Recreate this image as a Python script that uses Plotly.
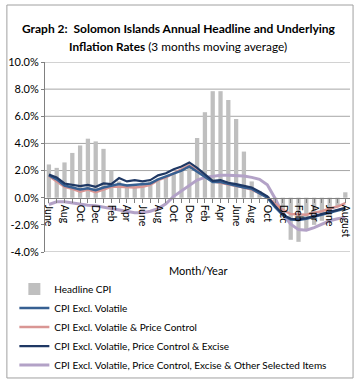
import plotly.graph_objects as go

months = ["June","Jul","Aug","Sep","Oct","Nov","Dec","Jan","Feb","Mar","Apr","May",
          "June","Jul","Aug","Sep","Oct","Nov","Dec","Jan","Feb","Mar","Apr","May",
          "June","Jul","Aug","Sep","Oct","Nov","Dec","Jan","Feb","Mar","Apr","May",
          "June","Jul","August"]

headline = [2.45, 2.2, 2.6, 3.3, 3.85, 4.35, 4.15, 3.6, 2.0, 1.2, 1.0, 1.0, 1.1, 1.2, 1.4, 1.6,
            1.8, 2.0, 2.2, 4.4, 6.3, 7.85, 7.85, 7.2, 5.8, 3.4, 1.2, 0.5, 0.1, -0.4, -1.4, -3.1,
            -3.25, -2.4, -2.0, -1.7, -1.3, -0.6, 0.4]

excl_volatile = [1.65, 1.35, 0.9, 0.75, 0.6, 0.7, 0.55, 0.75, 0.85, 1.0, 0.9, 0.95, 0.95, 1.05,
                 1.35, 1.55, 1.8, 2.0, 2.3, 1.9, 1.5, 1.15, 1.15, 1.0, 0.9, 0.75, 0.65, 0.35,
                 0.0, -0.7, -1.3, -1.6, -1.65, -1.55, -1.4, -1.25, -1.1, -0.95, -0.8]

excl_vol_pc = [1.6, 1.2, 0.8, 0.65, 0.45, 0.6, 0.4, 0.6, 0.8, 0.8, 0.75, 0.75, 0.8, 0.95,
               1.3, 1.5, 1.8, 2.1, 2.4, 2.0, 1.55, 1.2, 1.1, 1.0, 0.85, 0.75, 0.6, 0.35,
               0.05, -0.45, -0.9, -1.2, -1.25, -1.25, -1.1, -1.0, -0.8, -0.65, -0.4]

excl_vol_pc_ex = [1.7, 1.5, 1.05, 0.95, 0.85, 0.95, 0.8, 1.05, 1.0, 1.45, 1.2, 1.3, 1.2, 1.3,
                  1.65, 1.8, 2.1, 2.3, 2.6, 2.2, 1.7, 1.25, 1.3, 1.1, 1.0, 0.85, 0.75, 0.45,
                  0.1, -0.6, -1.25, -1.55, -1.6, -1.5, -1.35, -1.2, -1.05, -0.9, -0.75]

excl_all = [-0.5, -0.3, -0.3, -0.4, -0.5, -0.55, -0.6, -0.7, -0.75, -0.85, -1.0, -1.1, -1.1,
            -1.0, -0.8, -0.45, 0.1, 0.5, 0.9, 1.3, 1.5, 1.6, 1.65, 1.65, 1.65, 1.6, 1.5, 1.35,
            0.95, -0.05, -1.2, -1.95, -2.35, -2.4, -2.2, -1.95, -1.7, -1.55, -1.45]

y_ticks = [-4, -2, 0, 2, 4, 6, 8, 10]
grid_vals = [2, 4, 6, 8, 10]

x = list(range(len(months)))
FONT = "Lato, Liberation Sans, sans-serif"

fig = go.Figure()
fig.add_trace(go.Bar(x=x, y=headline, name="Headline CPI", marker_color="#BFBFBF",
                     marker_line_width=0, width=0.55))
fig.add_trace(go.Scatter(x=x, y=excl_all, mode="lines",
                         name="CPI Excl. Volatile, Price Control, Excise & Other Selected Items",
                         line=dict(color="#B3A2C7", width=3)))
fig.add_trace(go.Scatter(x=x, y=excl_vol_pc, mode="lines", name="CPI Excl. Volatile & Price Control",
                         line=dict(color="#D99694", width=2.5)))
fig.add_trace(go.Scatter(x=x, y=excl_volatile, mode="lines", name="CPI Excl. Volatile",
                         line=dict(color="#376092", width=2.5)))
fig.add_trace(go.Scatter(x=x, y=excl_vol_pc_ex, mode="lines",
                         name="CPI Excl. Volatile, Price Control & Excise",
                         line=dict(color="#1F3864", width=2.2)))

rank = {"Headline CPI": 1, "CPI Excl. Volatile": 2, "CPI Excl. Volatile & Price Control": 3,
        "CPI Excl. Volatile, Price Control & Excise": 4,
        "CPI Excl. Volatile, Price Control, Excise & Other Selected Items": 5}
for tr in fig.data:
    tr.legendrank = rank[tr.name]

ticktext = [m if i % 2 == 0 else "" for i, m in enumerate(months)]

shapes = []
for g in grid_vals:
    shapes.append(dict(type="line", xref="paper", yref="y", x0=0, x1=1, y0=g, y1=g,
                       line=dict(color="#A6A6A6", width=1), layer="below"))
shapes.append(dict(type="line", xref="paper", yref="y", x0=0, x1=1, y0=y_ticks[0], y1=y_ticks[0],
                   line=dict(color="#A6A6A6", width=1), layer="below"))
shapes.append(dict(type="rect", xref="paper", yref="paper", x0=-0.125, x1=1.01, y0=-0.663, y1=1.3,
                   line=dict(color="#A0A0A0", width=1)))

fig.update_layout(
    width=359, height=384,
    margin=dict(l=45, r=9, t=62, b=132, autoexpand=False),
    paper_bgcolor="white", plot_bgcolor="white",
    font=dict(family=FONT, size=11, color="black"),
    showlegend=True,
    legend=dict(xref="container", yref="container", x=0.04, y=0.285, xanchor="left",
                yanchor="top", font=dict(size=10), tracegroupgap=0,
                bgcolor="rgba(0,0,0,0)"),
    xaxis=dict(range=[-0.5, 38.6], tickvals=x, ticktext=ticktext, tickangle=90,
               anchor="free", position=4 / 14, showline=True, linecolor="#808080",
               ticks="outside", ticklen=4, tickcolor="#808080", showgrid=False,
               tickfont=dict(size=10.5), zeroline=False),
    yaxis=dict(range=[-4, 10], tickvals=y_ticks, ticktext=[f"{v:.1f}%" for v in y_ticks],
               showline=True, linecolor="#808080", ticks="outside", ticklen=3,
               tickcolor="#808080", showgrid=False, zeroline=False, tickfont=dict(size=11)),
    shapes=shapes,
    bargap=0.4,
    annotations=[
        dict(text="<b>Graph 2:  Solomon Islands Annual Headline and Underlying</b>",
             xref="paper", yref="paper", x=-0.082, y=1.175, xanchor="left", yanchor="middle",
             showarrow=False, font=dict(size=12)),
        dict(text="<b>Inflation Rates</b> (3 months moving average)",
             xref="paper", yref="paper", x=0.435, y=1.08, xanchor="center", yanchor="middle",
             showarrow=False, font=dict(size=11.8)),
        dict(text="Month/Year", xref="paper", yref="paper", x=0.5, y=-0.095,
             xanchor="center", yanchor="middle", showarrow=False, font=dict(size=11)),
    ],
)

fig.write_html("out.html", config={"displayModeBar": False},
               post_script="document.body.style.margin='0';")
